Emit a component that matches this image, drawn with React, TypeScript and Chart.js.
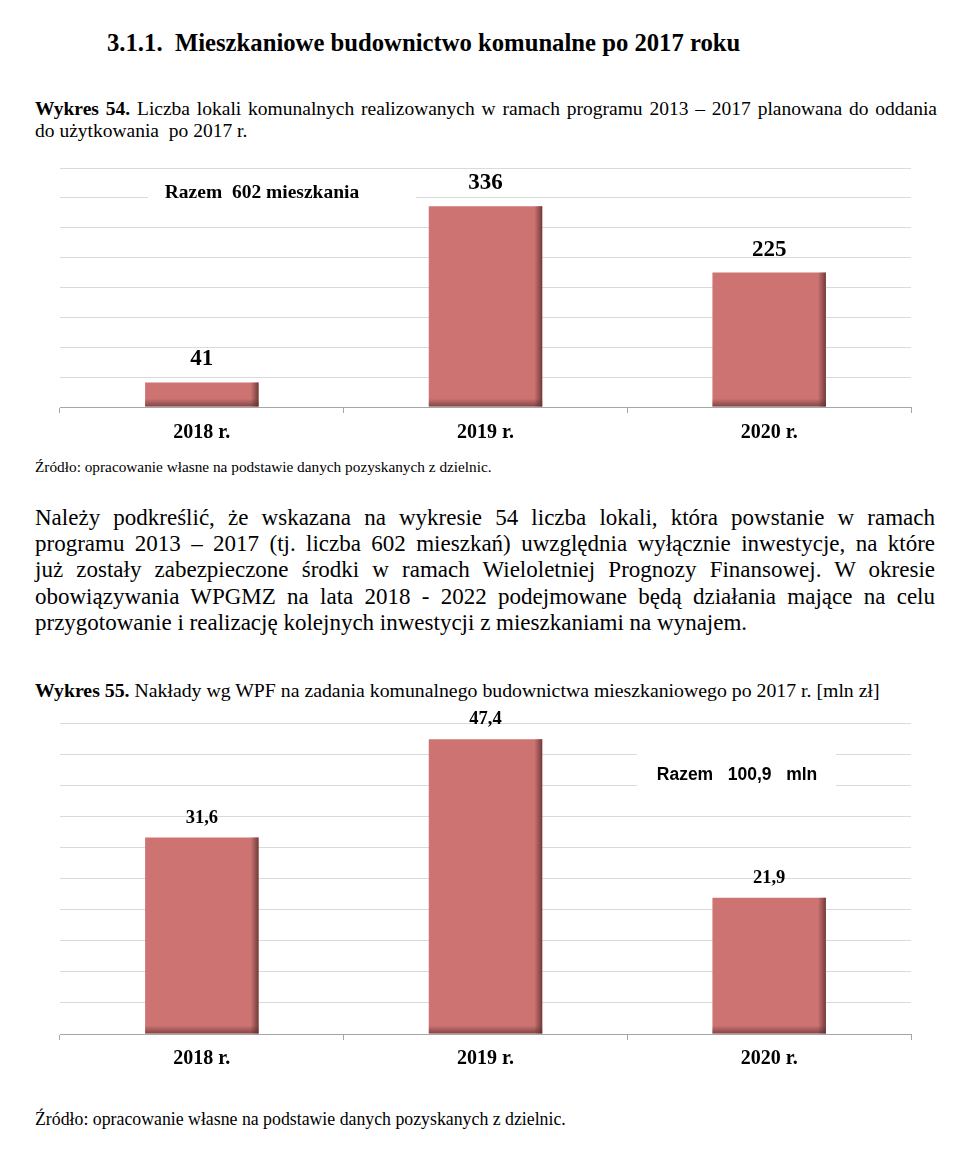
import React, { useEffect, useRef } from 'react';
import { Chart, registerables } from 'chart.js';

Chart.register(...registerables);

// ---- data ----
const years = ['2018 r.', '2019 r.', '2020 r.'];
const flats = [41, 336, 225];
const flatsLabels = ['41', '336', '225'];
const flatsMax = 400;
const flatsStep = 50;
const flatsTotal = 'Razem  602 mieszkania';

const spending = [31.6, 47.4, 21.9];
const spendingLabels = ['31,6', '47,4', '21,9'];
const spendingMax = 50;
const spendingStep = 5;
const spendingTotal = 'Razem   100,9   mln';

const BAR = '#CD7472';
const SERIF = '"Liberation Serif", "Times New Roman", serif';
const SANS = '"Liberation Sans", Arial, sans-serif';

const barShade = {
  id: 'barShade',
  afterDatasetsDraw(chart: any) {
    const ctx = chart.ctx;
    chart.getDatasetMeta(0).data.forEach((bar: any) => {
      const { x, y, width, base } = bar.getProps(['x', 'y', 'width', 'base'], true);
      const l = x - width / 2;
      const r = x + width / 2;
      const sw = 8;
      let g = ctx.createLinearGradient(r - sw, 0, r, 0);
      g.addColorStop(0, 'rgba(90,45,45,0)');
      g.addColorStop(1, 'rgba(90,45,45,0.8)');
      ctx.save();
      ctx.fillStyle = g;
      ctx.fillRect(r - sw, y, sw, base - y);
      const sh = 8;
      g = ctx.createLinearGradient(0, base - sh, 0, base);
      g.addColorStop(0, 'rgba(90,45,45,0)');
      g.addColorStop(1, 'rgba(90,45,45,0.65)');
      ctx.fillStyle = g;
      ctx.fillRect(l, base - sh, width, sh);
      ctx.restore();
    });
  },
};

function valueLabels(texts: string[], font: string, offset: number) {
  return {
    id: 'valueLabels',
    afterDatasetsDraw(chart: any) {
      const ctx = chart.ctx;
      ctx.save();
      ctx.font = font;
      ctx.fillStyle = '#000';
      ctx.textAlign = 'center';
      ctx.textBaseline = 'middle';
      chart.getDatasetMeta(0).data.forEach((bar: any, i: number) => {
        ctx.fillText(texts[i], bar.x, bar.y - offset);
      });
      ctx.restore();
    },
  };
}

function totalBox(text: string, font: string, box: number[], center: number[]) {
  return {
    id: 'totalBox',
    afterDatasetsDraw(chart: any) {
      const { ctx, chartArea } = chart;
      ctx.save();
      ctx.fillStyle = '#fff';
      ctx.fillRect(chartArea.left + box[0], chartArea.top + box[1], box[2], box[3]);
      ctx.font = font;
      ctx.fillStyle = '#000';
      ctx.textAlign = 'center';
      ctx.textBaseline = 'middle';
      ctx.fillText(text, chartArea.left + center[0], chartArea.top + center[1]);
      ctx.restore();
    },
  };
}

function makeConfig(
  values: number[],
  max: number,
  step: number,
  padding: any,
  xHeight: number,
  tickPad: number,
  plugins: any[]
) {
  return {
    type: 'bar' as const,
    data: {
      labels: years,
      datasets: [
        {
          data: values,
          backgroundColor: BAR,
          borderWidth: 0,
          barPercentage: 0.4,
          categoryPercentage: 1,
        },
      ],
    },
    options: {
      animation: false as const,
      responsive: false,
      maintainAspectRatio: false,
      layout: { padding },
      plugins: { legend: { display: false }, tooltip: { enabled: false } },
      scales: {
        x: {
          grid: {
            display: true,
            drawOnChartArea: false,
            drawTicks: true,
            tickLength: 6,
            color: '#A6A6A6',
            offset: true,
          },
          border: { display: true, color: '#A6A6A6', width: 1 },
          ticks: {
            color: '#000',
            padding: tickPad,
            font: { family: SERIF, size: 20, weight: 'bold' as const },
          },
          afterFit(scale: any) {
            scale.height = xHeight;
          },
        },
        y: {
          min: 0,
          max,
          ticks: { display: false, stepSize: step },
          grid: { color: '#DADADA', lineWidth: 1, drawTicks: false },
          border: { display: false },
          afterFit(scale: any) {
            scale.width = 0;
          },
        },
      },
    },
    plugins,
  };
}

function BarChart(props: { config: any; style: React.CSSProperties; width: number; height: number }) {
  const ref = useRef<HTMLCanvasElement>(null);
  useEffect(() => {
    const chart = new Chart(ref.current as HTMLCanvasElement, props.config);
    return () => chart.destroy();
  }, []);
  return (
    <canvas
      ref={ref}
      width={props.width}
      height={props.height}
      style={{ position: 'absolute', width: props.width, height: props.height, ...props.style }}
    />
  );
}

const abs = (top: number, left: number, extra: React.CSSProperties = {}): React.CSSProperties => ({
  position: 'absolute',
  top,
  left,
  margin: 0,
  fontFamily: SERIF,
  color: '#000',
  whiteSpace: 'nowrap',
  ...extra,
});

const justLine: React.CSSProperties = {
  textAlign: 'justify',
  textAlignLast: 'justify' as any,
  whiteSpace: 'normal',
};

const paragraph = [
  'Należy podkreślić, że wskazana na wykresie 54 liczba lokali, która powstanie w ramach',
  'programu 2013 – 2017  (tj. liczba 602 mieszkań) uwzględnia wyłącznie inwestycje, na które',
  'już zostały zabezpieczone środki w ramach Wieloletniej Prognozy Finansowej. W okresie',
  'obowiązywania WPGMZ na lata 2018 - 2022 podejmowane będą działania mające na celu',
  'przygotowanie i realizację kolejnych inwestycji z mieszkaniami na wynajem.',
];

export default function App() {
  const config1 = makeConfig(
    flats,
    flatsMax,
    flatsStep,
    { left: 40, right: 29, top: 18, bottom: 0 },
    43,
    7.5,
    [
      barShade,
      valueLabels(flatsLabels, `bold 23px ${SERIF}`, 23),
      totalBox(flatsTotal, `bold 19.5px ${SERIF}`, [88, 12, 268, 31], [202, 25]),
    ]
  );
  const config2 = makeConfig(
    spending,
    spendingMax,
    spendingStep,
    { left: 40, right: 29, top: 23, bottom: 0 },
    36,
    6.5,
    [
      barShade,
      valueLabels(spendingLabels, `bold 18.5px ${SERIF}`, 19.5),
      totalBox(spendingTotal, `bold 17.5px ${SANS}`, [577, 22, 199, 55], [677, 52]),
    ]
  );

  return (
    <div style={{ position: 'absolute', top: 0, left: 0, width: 964, height: 1168, background: '#fff' }}>
      <div style={abs(28, 107, { fontSize: 24.7, fontWeight: 'bold', lineHeight: '30px' })}>
        3.1.1.&nbsp; Mieszkaniowe budownictwo komunalne po 2017 roku
      </div>

      <div style={abs(98, 35, { fontSize: 19.5, lineHeight: '22px', width: 902 })}>
        <div style={justLine}>
          <b>Wykres 54.</b> Liczba lokali komunalnych realizowanych w ramach programu 2013 – 2017 planowana do oddania
        </div>
        <div>do użytkowania&nbsp; po 2017 r.</div>
      </div>

      <BarChart config={config1} width={920} height={300} style={{ top: 150, left: 20 }} />

      <div style={abs(458, 35, { fontSize: 15.3, lineHeight: '18px' })}>
        Źródło: opracowanie własne na podstawie danych pozyskanych z dzielnic.
      </div>

      <div style={abs(505, 35, { fontSize: 23, lineHeight: '26.2px', width: 900 })}>
        {paragraph.map((t, i) => (
          <div key={i} style={i < paragraph.length - 1 ? justLine : { whiteSpace: 'nowrap' }}>
            {t}
          </div>
        ))}
      </div>

      <div style={abs(679, 35, { fontSize: 19.8, lineHeight: '22px' })}>
        <b>Wykres 55.</b> Nakłady wg WPF na zadania komunalnego budownictwa mieszkaniowego po 2017 r. [mln zł]
      </div>

      <BarChart config={config2} width={920} height={370} style={{ top: 700, left: 20 }} />

      <div style={abs(1109, 35, { fontSize: 17.8, lineHeight: '20px' })}>
        Źródło: opracowanie własne na podstawie danych pozyskanych z dzielnic.
      </div>
    </div>
  );
}
